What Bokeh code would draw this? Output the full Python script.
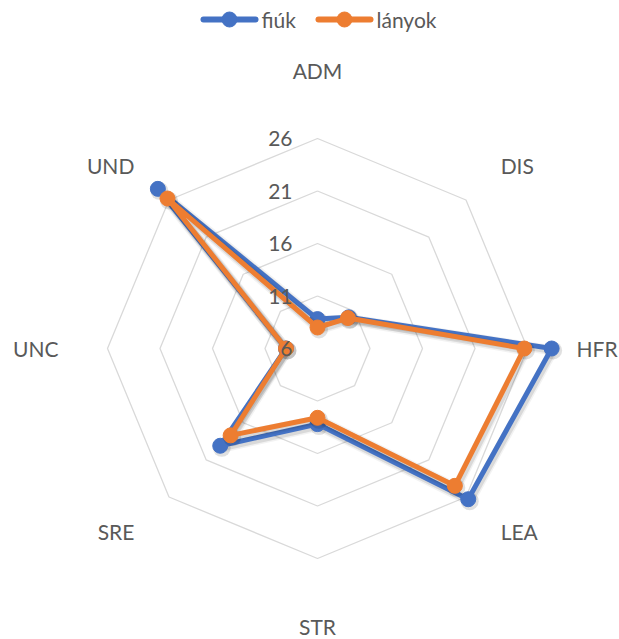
import numpy as np
from bokeh.plotting import figure
from bokeh.models import Range1d, ColumnDataSource
from bokeh.embed import file_html
from bokeh.resources import INLINE
from bokeh.core.properties import value

# Radar data
categories = ["ADM", "DIS", "HFR", "LEA", "STR", "SRE", "UNC", "UND"]
fiuk = [8.8, 10.2, 28.3, 26.3, 13.2, 19.1, 9.0, 27.5]
lanyok = [8.0, 10.1, 25.7, 24.5, 12.6, 17.7, 9.0, 26.2]
ticks = [6, 11, 16, 21, 26]
series_names = ["fiúk", "lányok"]

R_MIN, R_MAX = ticks[0], ticks[-1]
W, H = 619, 639
CX, CY = 317, 348            # pixel position of the radar centre
K = 210 / (R_MAX - R_MIN)     # pixels per value unit

FONT = "Lato"
FONT_SIZE = "21px"
TEXT_COLOR = "#595959"
GRID_COLOR = "#D9D9D9"
BLUE, ORANGE = "#4472C4", "#ED7D31"
COLORS = [BLUE, ORANGE]

n = len(categories)
angles = np.pi / 2 - np.arange(n) * 2 * np.pi / n   # clockwise from the top


def polar(vals):
    r = np.asarray(vals, dtype=float) - R_MIN
    return r * np.cos(angles), r * np.sin(angles)


def px(x_pix, y_pix):
    """screen pixel (from top-left) -> data coordinates"""
    return (x_pix - CX) / K, (CY - y_pix) / K


p = figure(width=W, height=H, output_backend="svg", toolbar_location=None,
           x_range=Range1d(-CX / K, (W - CX) / K),
           y_range=Range1d(-(H - CY) / K, CY / K),
           min_border=0, x_axis_location=None, y_axis_location=None,
           background_fill_color="white", border_fill_color="white")
p.grid.visible = False
p.outline_line_color = None

# octagonal grid rings (no spokes)
for t in ticks[1:]:
    gx, gy = polar([t] * n)
    p.line(list(gx) + [gx[0]], list(gy) + [gy[0]], line_color=GRID_COLOR, line_width=1.3)

# series with a soft drop shadow
sh_dx, sh_dy = 1.5 / K, -2.0 / K
for vals, color in zip([fiuk, lanyok], COLORS):
    x, y = polar(vals)
    xs = list(x) + [x[0]]
    ys = list(y) + [y[0]]
    for w, a in [(10, 0.05), (7, 0.10)]:
        p.line([v + sh_dx for v in xs], [v + sh_dy for v in ys], line_color="black",
               line_alpha=a, line_width=w, line_join="round")
    p.scatter(x + sh_dx, y + sh_dy, size=18, fill_color="black", fill_alpha=0.12, line_color=None)
    p.line(xs, ys, line_color=color, line_width=5, line_join="round")
    p.scatter(x, y, size=15, fill_color=color, line_color=color)

# radial tick labels
tick_src = ColumnDataSource(dict(x=[0] * len(ticks), y=[t - R_MIN for t in ticks],
                                 text=[str(t) for t in ticks]))
p.text("x", "y", "text", source=tick_src, x_offset=-25, text_align="right",
       text_baseline="middle", text_font=value(FONT), text_font_size=FONT_SIZE,
       text_color=TEXT_COLOR)

# category labels around the outside
lx, ly, al = [], [], []
for a in angles:
    c, s = np.cos(a), np.sin(a)
    if abs(c) < 0.01:
        r = 278 / K
        al.append("center")
    else:
        r = 259 / K
        al.append("left" if c > 0 else "right")
    lx.append(r * c)
    ly.append(r * s)
cat_src = ColumnDataSource(dict(x=lx, y=ly, text=categories, align=al))
p.text("x", "y", "text", source=cat_src, text_align="align", text_baseline="middle",
       text_font=value(FONT), text_font_size=FONT_SIZE, text_color=TEXT_COLOR)

# legend row at the top
leg_x0 = [200, 315]
for name, color, x0 in zip(series_names, COLORS, leg_x0):
    xa, ya = px(x0 + 3, 19)
    xb, _ = px(x0 + 55, 19)
    xm, _ = px(x0 + 29, 19)
    xt, _ = px(x0 + 61, 19)
    p.line([xa, xb], [ya, ya], line_color=color, line_width=6, line_cap="round")
    p.scatter([xm], [ya], size=15, fill_color=color, line_color=color)
    p.text([xt], [ya], text=[name], text_align="left", text_baseline="middle",
           text_font=value(FONT), text_font_size=FONT_SIZE, text_color=TEXT_COLOR)

open("out.html", "w").write(file_html(p, INLINE))
